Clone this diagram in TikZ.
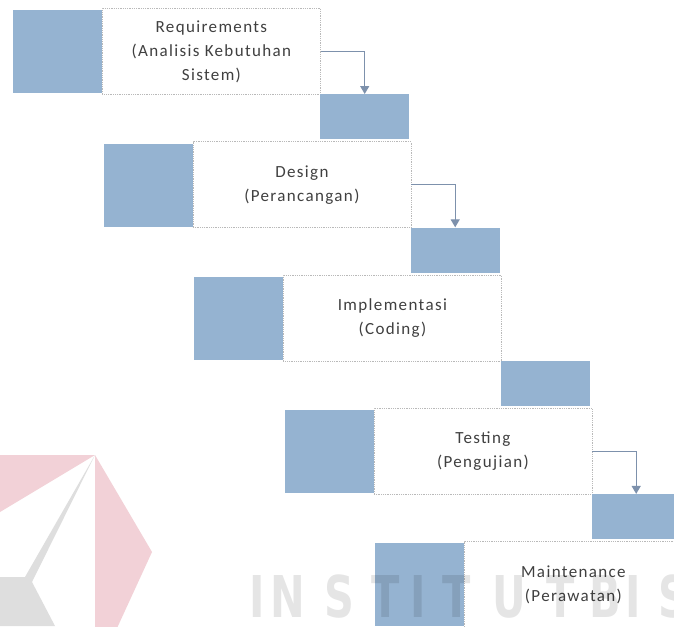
\documentclass[tikz,border=0pt]{standalone}
\usepackage{fontspec}
\setmainfont{Carlito}
\newfontfamily\diagfont[LetterSpace=8]{Carlito}
\newfontfamily\wmfont{DejaVu Sans Condensed}
\usetikzlibrary{arrows.meta}
\definecolor{sqblue}{RGB}{149,179,209}
\definecolor{txtgray}{RGB}{64,64,64}
\definecolor{dotgray}{RGB}{185,185,185}
\definecolor{arrgray}{RGB}{125,145,172}
\definecolor{wmpink}{RGB}{242,209,215}
\definecolor{wmgray}{RGB}{222,222,222}
\tikzset{
  bigsq/.style={anchor=north west, fill=sqblue, draw=none, minimum width=89pt, minimum height=83pt, inner sep=0pt},
  smallsq/.style={anchor=north west, fill=sqblue, draw=none, minimum width=89pt, minimum height=45pt, inner sep=0pt},
  stepbox/.style={anchor=north west, fill=white, draw=dotgray, densely dotted, line width=0.8pt, minimum width=218pt, minimum height=86pt, inner sep=0pt, align=center, text=txtgray, font=\diagfont\fontsize{17}{24}\selectfont},
  conn/.style={draw=arrgray, line width=1.3pt, -{Triangle[length=8pt,width=9pt]}},
  wm/.style={anchor=base, text=black, text opacity=0.1, inner sep=0pt, font=\wmfont\bfseries\fontsize{57.6}{58}\selectfont, xscale=0.8}
}
\begin{document}
\begin{tikzpicture}[x=1pt,y=-1pt]
\useasboundingbox (0,0) rectangle (674,626);
\clip (0,0) rectangle (674,626);
\fill[white] (0,0) rectangle (674,626);
% stage 1
\node[bigsq] (b1) at (13,10) {};
\node[stepbox] (t1) at (102,8) {Requirements\\(Analisis Kebutuhan\\Sistem)};
\node[smallsq] (s1) at (320,94) {};
% stage 2
\node[bigsq] (b2) at (103.5,143.3) {};
\node[stepbox] (t2) at (192.5,141.3) {Design\\(Perancangan)};
\node[smallsq] (s2) at (410.5,227.3) {};
% stage 3
\node[bigsq] (b3) at (194,276.6) {};
\node[stepbox] (t3) at (283,274.6) {Implementasi\\(Coding)};
\node[smallsq] (s3) at (501,360.6) {};
% stage 4
\node[bigsq] (b4) at (284.5,409.9) {};
\node[stepbox] (t4) at (373.5,407.9) {Testing\\(Pengujian)};
\node[smallsq] (s4) at (591.5,493.9) {};
% stage 5
\node[bigsq] (b5) at (375,543.2) {};
\node[stepbox] (t5) at (464,541.2) {Maintenance\\(Perawatan)};
% connectors
\draw[conn] (t1.east) -| (s1.north);
\draw[conn] (t2.east) -| (s2.north);
\draw[conn] (t4.east) -| (s4.north);
% watermark
\fill[wmpink] (0,455) -- (95,455) -- (0,512) -- cycle;
\fill[wmpink] (95,455) -- (152,552) -- (95,676) -- cycle;
\fill[wmgray] (95,455) -- (25,577) -- (0,577) -- (0,626) -- (55,626) -- (32,582) -- cycle;
\foreach \ch/\xx [count=\k] in {I/257,N/288,S/339,T/386,I/418,T/457,U/509,T/561,B/605,I/633,S/673}
  \node[wm] (wm\k) at (\xx,617) {\ch};
\end{tikzpicture}
\end{document}
